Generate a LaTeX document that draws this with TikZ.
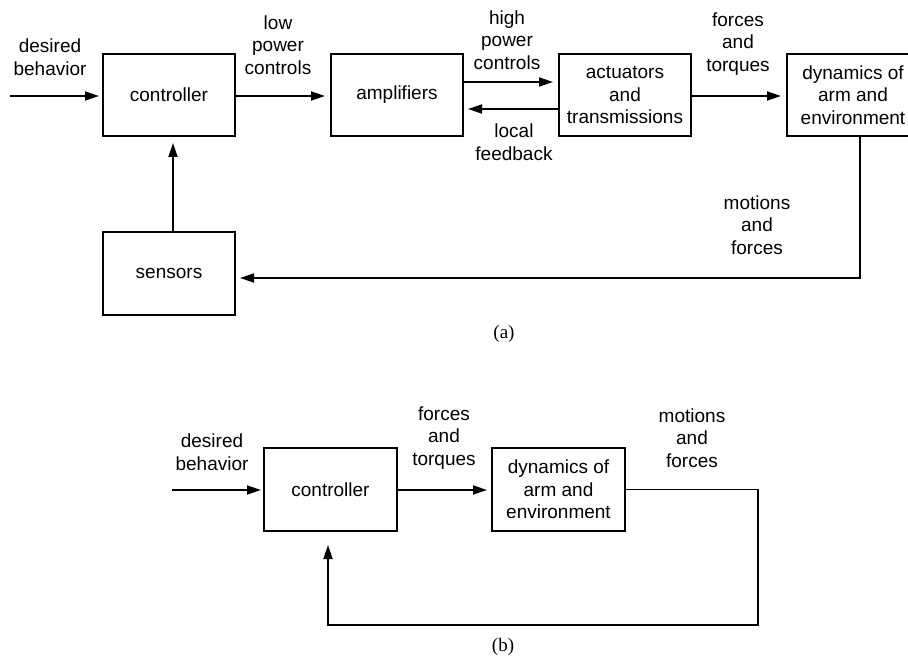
\documentclass[tikz,border=0pt]{standalone}
\usepackage{fontspec}
\setmainfont{Liberation Sans}
\newfontfamily\capfont{Liberation Serif}
\usetikzlibrary{arrows.meta,calc}
\begin{document}
\begin{tikzpicture}[x=1pt,y=-1pt,
  box/.style={draw,line width=2pt,minimum width=132pt,minimum height=82pt,inner sep=0pt,align=center,font=\fontsize{19}{22.5}\selectfont},
  lbl/.style={align=center,inner sep=0pt,font=\fontsize{19}{22.5}\selectfont},
  arr/.style={line width=1.8pt,-{Triangle[length=14pt,width=9pt]}},
  captext/.style={inner sep=0pt,font=\capfont\fontsize{19}{22}\selectfont}]
\useasboundingbox (0,0) rectangle (908,658);
% ---------- (a) ----------
\node[box] (ctrl) at (169,95) {controller};
\node[box] (amp) at (397,95) {amplifiers};
\node[box] (act) at (625,95) {actuators\\and\\transmissions};
\node[box] (dyn) at (853,95) {dynamics of\\arm and\\environment};
\node[box,minimum height=83pt] (sens) at (169,273.5) {sensors};

\coordinate (ina) at (10,96);
\coordinate (c1) at (860,278);

\node[lbl] (lda) at (50,57) {desired\\behavior};
\node[lbl] (llp) at (278,45) {low\\power\\controls};
\node[lbl] (lhp) at (507,40) {high\\power\\controls};
\node[lbl] (llf) at (514,142) {local\\feedback};
\node[lbl] (lfta) at (738,44) {forces\\and\\torques};
\node[lbl] (lmfa) at (757,225) {motions\\and\\forces};
\node[captext] (capa) at (504,334) {(a)};

\draw[arr,shorten >=3pt] (ina) -- (ina -| ctrl.west);
\draw[arr,shorten >=5pt] (ctrl.east |- ina) -- (amp.west |- ina);
\draw[arr,shorten >=5pt] ([yshift=13pt]amp.east) -- ([yshift=13pt]act.west);
\draw[arr,shorten >=4pt] ([yshift=-14pt]act.west) -- ([yshift=-14pt]amp.east);
\draw[arr,shorten >=5pt] (act.east |- ina) -- (dyn.west |- ina);
\draw[arr,shorten >=4pt] (dyn.south -| c1) -- (c1) -- (c1 -| sens.east);
\draw[arr,shorten >=6pt] ([xshift=4pt]sens.north) -- ([xshift=4pt]ctrl.south);

% ---------- (b) ----------
\node[box,minimum width=133pt,minimum height=83pt] (ctrlb) at (330.5,489.5) {controller};
\node[box,minimum width=133pt,minimum height=83pt] (dynb) at (558.5,489.5) {dynamics of\\arm and\\environment};

\coordinate (inb) at (172,490);
\coordinate (c2) at (758,625);
\coordinate (c3) at (328,625);

\node[lbl] (ldb) at (212,452) {desired\\behavior};
\node[lbl] (lftb) at (444,438) {forces\\and\\torques};
\node[lbl] (lmfb) at (692,438) {motions\\and\\forces};
\node[captext] (capb) at (503,647) {(b)};

\draw[arr,shorten >=2pt] (inb) -- (inb -| ctrlb.west);
\draw[arr,shorten >=4pt] (ctrlb.east |- inb) -- (dynb.west |- inb);
\draw[arr,shorten >=13pt] (dynb.east) -- (dynb.east -| c2) -- (c2) -- (c3) -- (c3 |- ctrlb.south);
\end{tikzpicture}
\end{document}
